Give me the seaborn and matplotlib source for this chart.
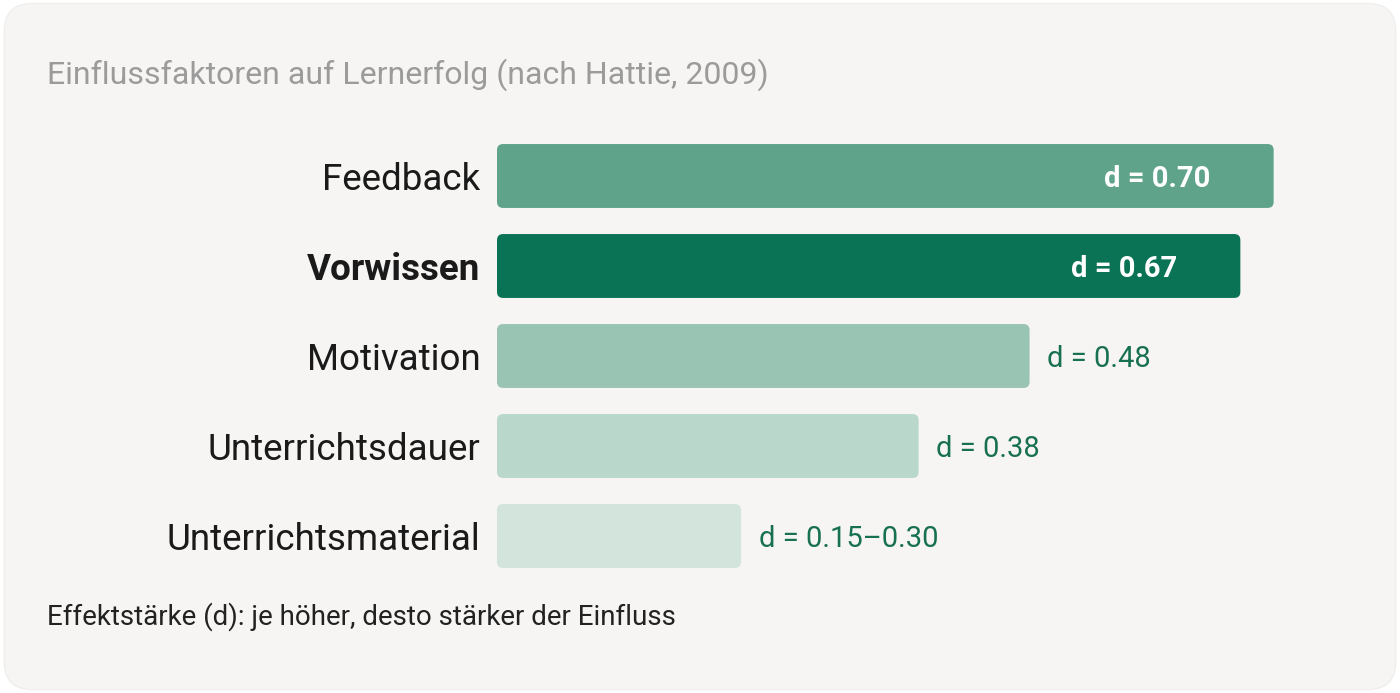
import pandas as pd
import matplotlib.pyplot as plt
import seaborn as sns
from matplotlib.patches import FancyBboxPatch

# Data
factors = ['Feedback', 'Vorwissen', 'Motivation', 'Unterrichtsdauer', 'Unterrichtsmaterial']
effect = [0.70, 0.67, 0.48, 0.38, 0.22]
value_labels = ['d = 0.70', 'd = 0.67', 'd = 0.48', 'd = 0.38', 'd = 0.15–0.30']
bar_colors = ['#5fa38b', '#0b7355', '#99c4b4', '#b9d8cb', '#d3e4dc']

df = pd.DataFrame({'Faktor': factors, 'd': effect})

sns.set_style('white')
plt.rcParams['font.family'] = ['Roboto', 'DejaVu Sans']

fig = plt.figure(figsize=(14, 6.93), dpi=100)
fig.patch.set_facecolor('white')
card = FancyBboxPatch((0.003, 0.005), 0.994, 0.99, boxstyle='round,pad=0,rounding_size=0.02',
                      transform=fig.transFigure, facecolor='#f6f5f3', edgecolor='#f0efed',
                      linewidth=1, mutation_aspect=2.02, zorder=-5)
fig.patches.append(card)

ax = fig.add_axes([0.355, 0.1616, 0.634, 0.6494])
ax.set_facecolor('none')
sns.barplot(data=df, y='Faktor', x='d', hue='Faktor', palette=bar_colors,
            orient='h', width=0.71, legend=False, ax=ax)

# rounded bars
for p, c in zip(list(ax.patches), bar_colors):
    x0, y0, w, h = p.get_x(), p.get_y(), p.get_width(), p.get_height()
    p.remove()
    ax.add_patch(FancyBboxPatch((x0, y0), w, h, boxstyle='round,pad=0,rounding_size=0.0055',
                                mutation_aspect=12.3, facecolor=c, edgecolor='none'))

ax.set_xlim(0, 0.8)
ax.set_ylim(4.5, -0.5)
ax.set_xlabel('')
ax.set_ylabel('')
ax.set_xticks([])
sns.despine(ax=ax, left=True, bottom=True)
ax.tick_params(axis='y', length=0, pad=12, labelsize=26.5, labelcolor='#1a1a1a')
for i, lbl in enumerate(ax.get_yticklabels()):
    lbl.set_verticalalignment('center_baseline')
    if factors[i] == 'Vorwissen':
        lbl.set_fontweight('bold')

for i, (v, t) in enumerate(zip(effect, value_labels)):
    if i == 0:
        ax.text(v - 0.057, i, t, ha='right', va='center_baseline', color='white',
                fontsize=21, fontweight='semibold')
    elif i == 1:
        ax.text(v - 0.057, i, t, ha='right', va='center_baseline', color='white',
                fontsize=21, fontweight='bold')
    else:
        ax.text(v + 0.016, i, t, ha='left', va='center_baseline', color='#17704f',
                fontsize=21, fontweight='normal')

fig.text(47 / 1400, 1 - 75 / 693, 'Einflussfaktoren auf Lernerfolg (nach Hattie, 2009)',
         ha='left', va='center', fontsize=23, color='#9b9b9b')
fig.text(47 / 1400, 1 - 617 / 693, 'Effektstärke (d): je höher, desto stärker der Einfluss',
         ha='left', va='center', fontsize=20, color='#222222')

fig.savefig('out.png', dpi=100, facecolor=fig.get_facecolor())
